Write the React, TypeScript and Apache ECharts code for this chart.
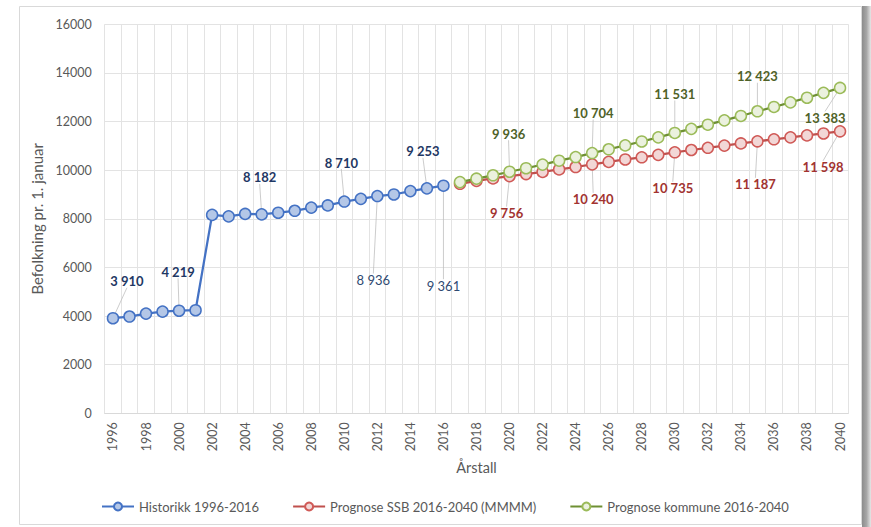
import React, { useEffect, useRef } from "react";
import * as echarts from "echarts";

const years = [
  "1996", "1997", "1998", "1999", "2000", "2001", "2002", "2003", "2004", "2005",
  "2006", "2007", "2008", "2009", "2010", "2011", "2012", "2013", "2014", "2015",
  "2016", "2017", "2018", "2019", "2020", "2021", "2022", "2023", "2024", "2025",
  "2026", "2027", "2028", "2029", "2030", "2031", "2032", "2033", "2034", "2035",
  "2036", "2037", "2038", "2039", "2040",
];

// 1996-2016
const historikk = [
  3910, 3980, 4100, 4180, 4219, 4240, 8160, 8100, 8200, 8182,
  8250, 8330, 8460, 8550, 8710, 8820, 8936, 9000, 9140, 9253, 9361,
];

// 2017-2040
const prognoseSSB = [
  9440, 9560, 9660, 9756, 9840, 9930, 10030, 10130, 10240, 10340,
  10440, 10530, 10630, 10735, 10830, 10920, 11010, 11100, 11187, 11270,
  11350, 11430, 11510, 11598,
];

// 2017-2040
const prognoseKommune = [
  9510, 9650, 9790, 9936, 10080, 10230, 10390, 10540, 10704, 10860,
  11020, 11180, 11350, 11531, 11700, 11870, 12050, 12230, 12423, 12600,
  12790, 12980, 13180, 13383,
];

const seriesNames = [
  "Historikk 1996-2016",
  "Prognose SSB 2016-2040 (MMMM)",
  "Prognose kommune 2016-2040",
];

// label placement (pixel offsets from the point), keyed by axis index
const histLabels: Record<number, [number, number, boolean]> = {
  0: [14, -37, true],
  4: [-1, -39, true],
  9: [-2, -37, true],
  14: [-3, -39, true],
  16: [-4, 84, false],
  19: [-4, -37, true],
  20: [0, 100, false],
};
const ssbLabels: Record<number, [number, number]> = {
  24: [-3, 37],
  29: [1, 35],
  34: [-2, 36],
  39: [-2, 43],
  44: [-17, 36],
};
const kommuneLabels: Record<number, [number, number]> = {
  24: [-1, -38],
  29: [1, -40],
  34: [0, -39],
  39: [0, -35],
  44: [-15, 30],
};

const fmt = (v: number) =>
  String(Math.round(v)).replace(/\B(?=(\d{3})+(?!\d))/g, " ");

const FONT = "Lato, 'Noto Sans', sans-serif";

export default function App() {
  const ref = useRef<HTMLDivElement>(null);

  useEffect(() => {
    document.body.style.margin = "0";
    if (!ref.current) return;
    const chart = echarts.init(ref.current, undefined, { renderer: "svg" });

    const offset = 21;
    const pad = (arr: number[]) =>
      (new Array(offset).fill(null) as (number | null)[]).concat(arr);

    const histData = historikk.map((v, i) => {
      const l = histLabels[i];
      if (!l) return v;
      return {
        value: v,
        label: {
          show: true,
          fontWeight: l[2] ? "bold" : "normal",
          color: l[2] ? "#1F3864" : "#2F4A72",
        },
        labelLine: { show: true },
      };
    });

    const mk = (arr: (number | null)[], labels: Record<number, [number, number]>) =>
      arr.map((v, i) => {
        if (v == null || !labels[i]) return v;
        return { value: v, label: { show: true }, labelLine: { show: true } };
      });

    const ssbData = mk(pad(prognoseSSB), ssbLabels);
    const komData = mk(pad(prognoseKommune), kommuneLabels);

    const labelBase = {
      show: false,
      position: "inside",
      fontFamily: FONT,
      fontSize: 13,
      formatter: (p: any) => fmt(p.value),
    };
    const labelLine = {
      show: false,
      lineStyle: { color: "#BFBFBF", width: 0.8 },
      length2: 0,
    };

    const layoutFor = (labels: Record<number, any>) => (p: any) => {
      const l = labels[p.dataIndex];
      if (!l) return {};
      return { dx: l[0], dy: l[1] };
    };

    chart.setOption({
      animation: false,
      backgroundColor: "#ffffff",
      textStyle: { fontFamily: FONT },
      graphic: [
        {
          type: "rect",
          shape: { x: 19.5, y: 6.5, width: 842, height: 518 },
          style: { fill: "none", stroke: "#D9D9D9", lineWidth: 1 },
          z: -10,
        },
        {
          type: "rect",
          shape: { x: 862, y: 6, width: 9, height: 521 },
          style: {
            fill: new echarts.graphic.LinearGradient(0, 0, 1, 0, [
              { offset: 0, color: "#8C8C8C" },
              { offset: 0.5, color: "#A6A6A6" },
              { offset: 1, color: "#E6E6E6" },
            ]),
          },
          z: -10,
        },
      ],
      grid: { left: 104.7, right: 22.7, top: 24.3, bottom: 113.7, containLabel: false },
      legend: {
        left: 96,
        top: 495,
        itemWidth: 32,
        itemHeight: 10,
        itemGap: 33,
        textStyle: { color: "#595959", fontSize: 13, fontFamily: FONT },
        data: seriesNames,
      },
      xAxis: {
        type: "category",
        data: years,
        boundaryGap: true,
        name: "Årstall",
        nameLocation: "middle",
        nameGap: 47,
        nameTextStyle: { color: "#595959", fontSize: 14.5, fontFamily: FONT },
        axisLine: { lineStyle: { color: "#D9D9D9" } },
        axisTick: { show: false },
        axisLabel: {
          interval: 1,
          rotate: 90,
          color: "#595959",
          fontSize: 12.5,
          margin: 9,
          fontFamily: FONT,
        },
        splitLine: { show: true, interval: 0, lineStyle: { color: "#E3E3E3", width: 1 } },
      },
      yAxis: {
        type: "value",
        min: 0,
        max: 16000,
        interval: 2000,
        name: "Befolkning pr. 1. januar",
        nameLocation: "middle",
        nameGap: 50,
        nameTextStyle: { color: "#595959", fontSize: 15, fontFamily: FONT },
        axisLine: { show: false },
        axisTick: { show: false },
        axisLabel: {
          color: "#595959",
          fontSize: 12.5,
          margin: 13,
          fontFamily: FONT,
          formatter: (v: number) => String(v),
        },
        splitLine: { lineStyle: { color: "#E3E3E3", width: 1 } },
      },
      series: [
        {
          name: seriesNames[0],
          type: "line",
          data: histData,
          symbol: "circle",
          symbolSize: 11,
          lineStyle: { color: "#4472C4", width: 2.25 },
          itemStyle: { color: "#B4C7E7", borderColor: "#4472C4", borderWidth: 1.5 },
          label: { ...labelBase },
          labelLine,
          labelLayout: layoutFor(histLabels),
          z: 3,
        },
        {
          name: seriesNames[1],
          type: "line",
          data: ssbData,
          symbol: "circle",
          symbolSize: 11,
          lineStyle: { color: "#C0504D", width: 2.25 },
          itemStyle: { color: "#F2D7D6", borderColor: "#D05A57", borderWidth: 1.5 },
          label: { ...labelBase, color: "#A23330", fontWeight: "bold" },
          labelLine,
          labelLayout: layoutFor(ssbLabels),
          z: 2,
        },
        {
          name: seriesNames[2],
          type: "line",
          data: komData,
          symbol: "circle",
          symbolSize: 11,
          lineStyle: { color: "#6E9033", width: 2.25 },
          itemStyle: { color: "#EBF1DE", borderColor: "#9BBB59", borderWidth: 1.5 },
          label: { ...labelBase, color: "#4F6228", fontWeight: "bold" },
          labelLine,
          labelLayout: layoutFor(kommuneLabels),
          z: 4,
        },
      ],
    });

    return () => chart.dispose();
  }, []);

  return <div ref={ref} style={{ width: 871, height: 527 }} />;
}
